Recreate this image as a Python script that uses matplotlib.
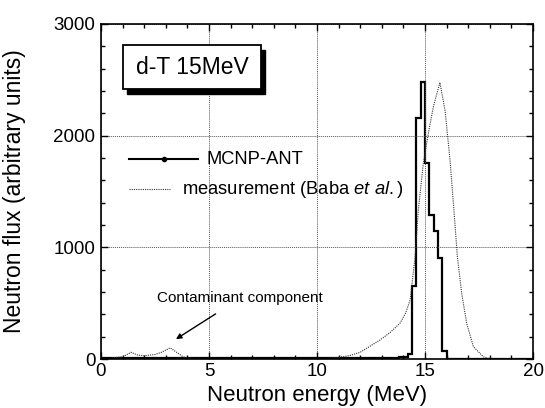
import numpy as np
import matplotlib
matplotlib.use("Agg")
from matplotlib import pyplot as plt
from matplotlib.patches import Rectangle
from matplotlib.ticker import MultipleLocator

plt.rcParams['font.family'] = ['Liberation Sans', 'DejaVu Sans']
plt.rcParams['mathtext.fontset'] = 'custom'
plt.rcParams['mathtext.rm'] = 'Liberation Sans'
plt.rcParams['mathtext.it'] = 'Liberation Sans:italic'

# MCNP-ANT histogram (bin edges in MeV, flux per bin)
mcnp_edges = [0.0, 13.8, 14.2, 14.4, 14.6, 14.8, 15.0, 15.2, 15.4, 15.6, 15.8, 16.0, 20.0]
mcnp_flux = [8, 20, 45, 658, 2155, 2485, 1753, 1286, 1143, 905, 74, 0]

# measurement (Baba et al.)
meas_e = [0.5, 1.0, 1.4, 1.7, 2.0, 2.5, 2.8, 3.2, 3.5, 3.8, 4.0, 4.5, 6.0, 8.0, 10.0,
          10.5, 11.0, 11.5, 12.0, 12.5, 12.92, 13.4, 13.84, 14.1, 14.31, 14.54, 14.69,
          14.92, 15.15, 15.38, 15.69, 15.93, 16.16, 16.34, 16.5, 16.7, 16.93, 17.24,
          17.7, 17.95, 20.0]
meas_flux = [10, 20, 60, 35, 30, 40, 60, 100, 60, 20, 8, 5, 3, 3, 3,
             5, 15, 30, 60, 120, 170, 240, 320, 410, 527, 913, 1330,
             1750, 2015, 2253, 2476, 2223, 1777, 1330, 913, 586, 319, 110,
             20, 5, 0]

fig = plt.figure(figsize=(5.45, 4.08), dpi=100)
ax = fig.add_axes([101/545, 49/408, 432/545, 335/408])

ax.stairs(mcnp_flux, mcnp_edges, color='black', linewidth=1.6, baseline=None)
ax.plot(meas_e, meas_flux, color='#333333', linestyle=(0, (1, 1)), linewidth=0.8)

ax.set_xlim(0, 20)
ax.set_ylim(0, 3000)
ax.xaxis.set_major_locator(MultipleLocator(5))
ax.xaxis.set_minor_locator(MultipleLocator(1))
ax.yaxis.set_major_locator(MultipleLocator(1000))
ax.yaxis.set_minor_locator(MultipleLocator(200))
ax.tick_params(which='both', direction='in', top=True, right=True, labelsize=13.5, width=1)
ax.tick_params(which='major', length=5)
ax.tick_params(axis='x', which='major', pad=3)
ax.tick_params(axis='y', which='major', pad=4)
ax.tick_params(which='minor', length=3)
ax.grid(True, which='major', color='#555555', linestyle=(0, (1, 1)), linewidth=0.7)
for s in ax.spines.values():
    s.set_linewidth(1.2)

ax.set_xlabel('Neutron energy (MeV)', fontsize=16)
ax.set_ylabel('Neutron flux (arbitrary units)', fontsize=16.5)
ax.xaxis.label.set_va('center')
ax.xaxis.set_label_coords(0.5, (359 - 395) / 335)
ax.yaxis.label.set_va('center')
ax.yaxis.set_label_coords((15 - 101) / 432, 0.5)

# title box with shadow
tr = fig.transFigure
fig.patches.append(Rectangle((127/545, 1 - 94/408), 138/545, 44/408, transform=tr,
                             facecolor='black', edgecolor='black', zorder=5))
fig.patches.append(Rectangle((123/545, 1 - 89/408), 138/545, 44/408, transform=tr,
                             facecolor='white', edgecolor='black', linewidth=1.3, zorder=6))
fig.text(192/545, 1 - 67/408, 'd-T 15MeV', fontsize=16.5, ha='center', va='center', zorder=7)

# legend
ax.plot([1.3, 4.5], [1790, 1790], color='black', linewidth=1.5)
ax.plot([2.9], [1790], 'o', color='black', markersize=3)
ax.text(4.9, 1790, 'MCNP-ANT', fontsize=13.2, va='center')
ax.plot([1.3, 3.2], [1520, 1520], color='#333333', linestyle=(0, (1, 1)), linewidth=0.8)
ax.text(3.75, 1520, r'measurement (Baba $\mathit{et\ al.}$)', fontsize=13.2, va='center')

ax.annotate('Contaminant component', xy=(3.47, 178), xytext=(6.45, 545),
            fontsize=11, ha='center', va='center',
            arrowprops=dict(arrowstyle='-|>', color='black', lw=1, shrinkA=8, shrinkB=0,
                            mutation_scale=8))

fig.savefig('out.png', dpi=100)
